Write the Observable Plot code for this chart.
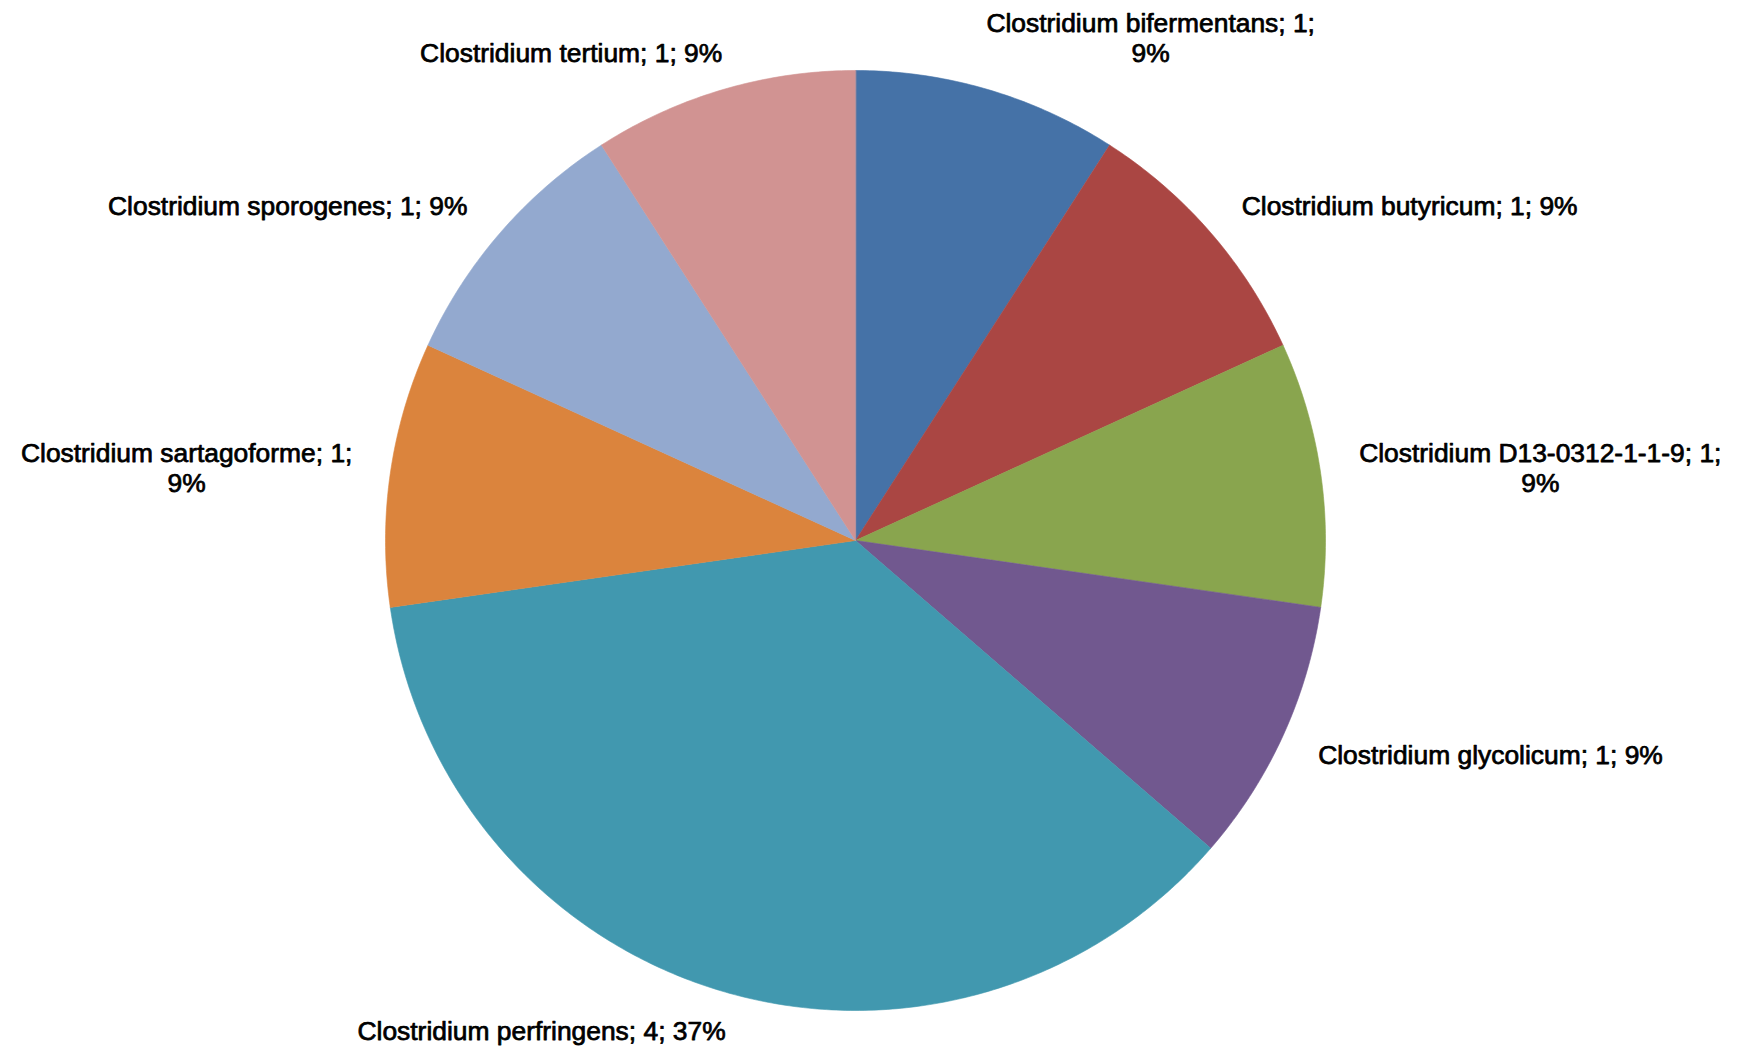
<!DOCTYPE html>
<html>
<head>
<meta charset="utf-8">
<script src="https://cdn.jsdelivr.net/npm/d3@7"></script>
<script src="https://cdn.jsdelivr.net/npm/@observablehq/plot@0.6"></script>
<style>
  html, body { margin: 0; padding: 0; background: #ffffff; }
  #chart { width: 1738px; height: 1048px; }
  svg { display: block; }
</style>
</head>
<body>
<div id="chart"></div>
<script>
// ---- data ----
const species = [
  "Clostridium bifermentans",
  "Clostridium butyricum",
  "Clostridium D13-0312-1-1-9",
  "Clostridium glycolicum",
  "Clostridium perfringens",
  "Clostridium sartagoforme",
  "Clostridium sporogenes",
  "Clostridium tertium"
];
const counts = [1, 1, 1, 1, 4, 1, 1, 1];
const percentLabels = ["9%", "9%", "9%", "9%", "37%", "9%", "9%", "9%"];
// label text line breaks as in the reference
const labelTexts = [
  "Clostridium bifermentans; 1;\n9%",
  "Clostridium butyricum; 1; 9%",
  "Clostridium D13-0312-1-1-9; 1;\n9%",
  "Clostridium glycolicum; 1; 9%",
  "Clostridium perfringens; 4; 37%",
  "Clostridium sartagoforme; 1;\n9%",
  "Clostridium sporogenes; 1; 9%",
  "Clostridium tertium; 1; 9%"
];
// label anchor positions, in pie-radius units (centre = 0,0; y up)
const labelX = [0.628, 1.179, 1.457, 1.351, -0.668, -1.423, -1.208, -0.605];
const labelY = [1.070, 0.713, 0.155, -0.455, -1.043, 0.155, 0.713, 1.038];
const sliceColors = ["#4572A7", "#AA4643", "#89A54E", "#71588F", "#4198AF", "#DB843D", "#93A9CF", "#D19392"];

// ---- geometry from the values ----
const pie = d3.pie().sort(null).value(d => d)(counts);
const slicePoints = [];
pie.forEach((p, i) => {
  const name = species[i];
  slicePoints.push({name, x: 0, y: 0});
  const n = Math.max(8, Math.ceil((p.endAngle - p.startAngle) / 0.01));
  for (let k = 0; k <= n; k++) {
    const a = p.startAngle + (p.endAngle - p.startAngle) * k / n;
    slicePoints.push({name, x: Math.sin(a), y: Math.cos(a)});
  }
});
const labels = species.map((s, i) => ({name: s, text: labelTexts[i], x: labelX[i], y: labelY[i]}));

const chart = Plot.plot({
  width: 1738,
  height: 1048,
  marginLeft: 385,
  marginRight: 413,
  marginTop: 70,
  marginBottom: 38,
  style: {fontFamily: "'Liberation Sans', Arial, sans-serif", background: "#ffffff"},
  x: {domain: [-1, 1], axis: null},
  y: {domain: [-1, 1], axis: null},
  color: {domain: species, range: sliceColors},
  marks: [
    Plot.line(slicePoints, {
      x: "x", y: "y", z: "name",
      fill: "name", stroke: "name", strokeWidth: 0.6,
      curve: "linear-closed"
    }),
    Plot.text(labels, {
      x: "x", y: "y", text: "text",
      fontSize: 26.4, lineHeight: 1.14,
      fill: "#000000", stroke: "#000000", strokeWidth: 0.75,
      textAnchor: "middle", lineAnchor: "middle"
    })
  ]
});
document.getElementById("chart").appendChild(chart);
</script>
</body>
</html>
